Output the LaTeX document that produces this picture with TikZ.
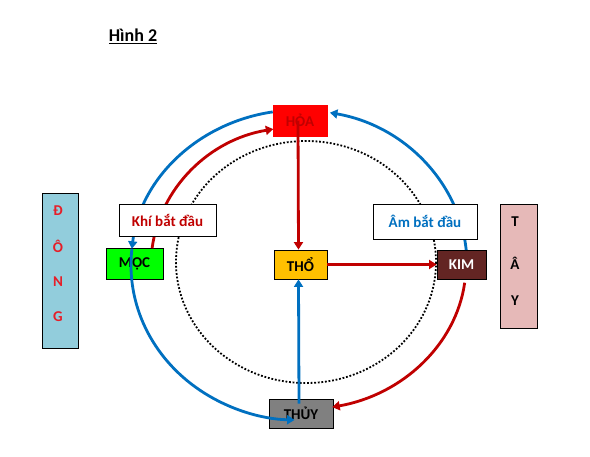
\documentclass[tikz,border=0pt]{standalone}
\usepackage{fontspec}
\setmainfont{Carlito}
\usetikzlibrary{arrows.meta}
\definecolor{cblue}{RGB}{0,112,192}
\definecolor{cred}{RGB}{192,0,0}
\definecolor{dongfill}{RGB}{146,205,220}
\definecolor{tayfill}{RGB}{230,185,184}
\definecolor{kimfill}{RGB}{99,37,35}
\definecolor{thofill}{RGB}{255,192,0}
\definecolor{mocfill}{RGB}{0,255,0}
\definecolor{hoafill}{RGB}{255,0,0}
\definecolor{thuyfill}{RGB}{128,128,128}
\definecolor{dongtext}{RGB}{230,30,40}
\begin{document}
\begin{tikzpicture}[x=1pt,y=-1pt,
  elem/.style={draw=black,line width=0.8pt,inner sep=0pt,font=\fontsize{15}{17}\selectfont\bfseries},
  label/.style={draw=black,line width=0.8pt,fill=white,inner sep=0pt,font=\fontsize{15}{17}\selectfont\bfseries},
  side/.style={draw=black,line width=0.8pt,inner sep=0pt},
  letter/.style={inner sep=0pt,font=\fontsize{15}{17}\selectfont\bfseries},
  bl/.style={cblue,line width=2.8pt,-{Triangle[length=7.5pt,width=9pt]}},
  rd/.style={cred,line width=2.8pt,-{Triangle[length=7.5pt,width=9pt]}},
  dots/.style={black,line width=1.8pt,dash pattern=on 1.8pt off 1.8pt}
]
\useasboundingbox (0,0) rectangle (590,456);
\fill[white] (0,0) rectangle (590,456);

% title
\node[inner sep=0pt,font=\fontsize{18}{20}\selectfont\bfseries] (title) at (133,36) {\underline{Hình 2}};

% side boxes
\node[side,fill=dongfill,minimum width=36pt,minimum height=155pt] (dong) at (60,270.5) {};
\node[letter,text=dongtext] (d1) at (58,211) {Đ};
\node[letter,text=dongtext] (d2) at (58,246) {Ô};
\node[letter,text=dongtext] (d3) at (58,282) {N};
\node[letter,text=dongtext] (d4) at (58,317) {G};

\node[side,fill=tayfill,minimum width=37pt,minimum height=124pt] (tay) at (518.5,266) {};
\node[letter] (t1) at (515,222) {T};
\node[letter] (t2) at (515,263) {Â};
\node[letter] (t3) at (515,301) {Y};

% dotted ellipse
\draw[dots] (306,262) ellipse [x radius=130, y radius=121];

% element boxes
\node[elem,draw=hoafill,fill=hoafill,text=cred,minimum width=54pt,minimum height=31pt] (hoa) at (300,120.5) {HỎA};
\node[elem,fill=mocfill,minimum width=57pt,minimum height=31pt] (moc) at (134.5,263.5) {MỘC};
\node[elem,fill=thofill,minimum width=53pt,minimum height=29pt] (tho) at (300.5,264.5) {THỔ};
\node[elem,fill=kimfill,text=white,minimum width=49pt,minimum height=29pt] (kim) at (461.5,264.5) {KIM};
\node[elem,fill=thuyfill,minimum width=64pt,minimum height=29pt] (thuy) at (301,413.5) {THỦY};

% anchor coordinates on the arcs
\coordinate (hoaW) at (272.7,111.9);
\coordinate (mocT) at (131.9,248.8);
\coordinate (kimT) at (466.2,249.9);
\coordinate (mocR) at (152.1,248.2);
\coordinate (kimB) at (464.7,282.7);

% blue arcs (outer ellipse)
\draw[bl] (hoaW) arc[start angle=261,end angle=186,x radius=168,y radius=155];
\draw[bl] (mocT) arc[start angle=186,end angle=91.5,x radius=168,y radius=155];
\draw[bl] (kimT) arc[start angle=-5.6,end angle=-79.4,x radius=168,y radius=155];

% red arcs
\draw[rd] (mocR) arc[start angle=187,end angle=260,x radius=148,y radius=138];
\draw[rd] (kimB) arc[start angle=7,end angle=78.5,x radius=167,y radius=145];

% straight connectors
\draw[rd] ([xshift=-2pt]hoa.center) -- ([xshift=-2pt]tho.north);
\draw[rd] (tho.east) -- (kim.west);
\draw[bl] ([xshift=-2pt,yshift=-5pt]thuy.north) -- ([xshift=-2pt]tho.south);

% label boxes
\node[label,text=cred,minimum width=97pt,minimum height=32pt] (khi) at (167.5,220) {Khí bắt đầu};
\node[label,text=cblue,minimum width=104pt,minimum height=35pt] (am) at (425,221.5) {Âm bắt đầu};
\end{tikzpicture}
\end{document}
